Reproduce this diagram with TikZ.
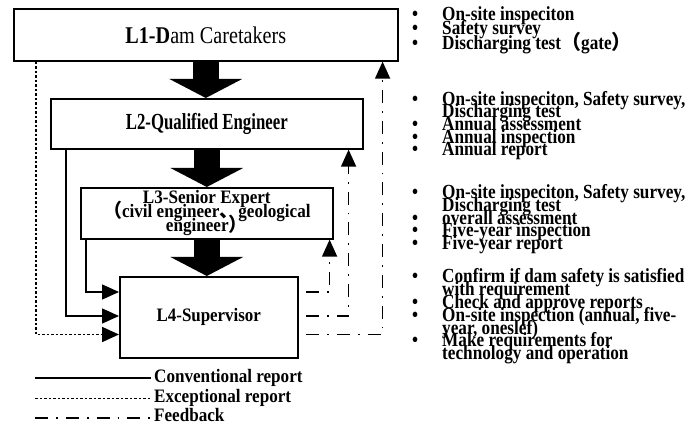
\documentclass[tikz,border=0pt]{standalone}
\usepackage{fontspec}
\setmainfont{Liberation Serif}
\newfontfamily\fA[FakeStretch=0.84]{Liberation Serif}
\newfontfamily\fB[FakeStretch=0.73]{Liberation Serif}
\newfontfamily\fR[FakeStretch=0.86]{Liberation Serif}
\newfontfamily\fC[FakeStretch=0.89]{Liberation Serif}
\newfontfamily\fD[FakeStretch=0.90]{Liberation Serif}
\newfontfamily\cjk{Noto Sans CJK SC}
\usetikzlibrary{arrows.meta}
\newcommand\bul{\makebox[30pt][l]{\textbullet}}
\newcommand\ind{\hspace*{30pt}}
\begin{document}
\begin{tikzpicture}[x=1pt,y=-1pt,
  box/.style={draw, line width=1.6pt, inner sep=0pt, anchor=north west},
  big/.style={line width=26pt, -{Triangle[length=19pt,width=72pt]}},
  ln/.style={line width=1.5pt},
  tip/.style={-{Triangle[length=17pt,width=15pt]}},
  dotl/.style={line width=1.8pt, dash pattern=on 2.5pt off 2pt},
  ddl/.style={dash pattern=on 13pt off 8pt on 1.8pt off 8pt},
  rt/.style={anchor=base west, inner sep=0pt, font={\fR\fontsize{20}{20}\selectfont\bfseries}},
  lg/.style={anchor=base west, inner sep=0pt, font={\fD\fontsize{19}{19}\selectfont\bfseries}},
  ]
\useasboundingbox (0,0) rectangle (689,430);
% boxes
\node[box, minimum width=384pt, minimum height=52pt, font={\fA\fontsize{24}{24}\selectfont}] (L1) at (13,8) {\textbf{L1-D}am Caretakers};
\node[box, minimum width=312pt, minimum height=50pt, font={\fB\fontsize{23}{24}\selectfont\bfseries}] (L2) at (50,98) {L2-Qualified Engineer};
\node[box, minimum width=252pt, minimum height=51pt, align=center, font={\fD\fontsize{19}{14}\selectfont\bfseries\lineskiplimit=-20pt}] (L3) at (80,187) {L3-Senior Expert\\{\cjk （}civil engineer{\cjk 、}geological\\engineer{\cjk ）}};
\node[box, minimum width=178pt, minimum height=81pt, font={\fC\fontsize{19}{20}\selectfont\bfseries}] (L4) at (119,276) {L4-Supervisor};
% big arrows
\draw[big] (L1.south) -- (L1.south |- L2.north);
\draw[big] (L2.south) -- (L2.south |- L3.north);
\draw[big] (L3.south) -- (L3.south |- L4.north);
% reports
\coordinate (ya) at (0,292);
\coordinate (yb) at (0,316);
\coordinate (yc) at (0,334.5);
\draw[ln,tip] ([xshift=6pt]L3.south west) |- (L4.west |- ya);
\draw[ln,tip] ([xshift=16pt]L2.south west) |- (L4.west |- yb);
\draw[ln,tip,dotl] ([xshift=23pt]L1.south west) |- (L4.west |- yc);
% feedback
\coordinate (fa) at (306,292);
\coordinate (fb) at (306,316);
\coordinate (fc) at (306,334.5);
\draw[ln,tip,ddl] (fa) -| ([xshift=-4pt]L3.south east);
\draw[ln,tip,ddl] (fb) -| ([xshift=-15pt]L2.south east);
\draw[ln,tip,ddl] (fc) -| ([xshift=-16pt]L1.south east);
% legend
\node[lg] (g1) at (154,383) {Conventional report};
\node[lg] (g2) at (154,402.5) {Exceptional report};
\node[lg] (g3) at (154,422) {Feedback};
\coordinate (la) at (35,378);
\coordinate (lb) at (35,398.5);
\coordinate (lc) at (35,418);
\draw[ln,shorten >=3pt] (la) -- (la -| g1.west);
\draw[ln,dotl,shorten >=3pt] (lb) -- (lb -| g2.west);
\draw[ln,ddl,shorten >=3pt] (lc) -- (lc -| g3.west);
% right text
\node[rt] (a1) at (412,20.5) {\bul On-site inspeciton};
\node[rt] (a2) at (412,35) {\bul Safety survey};
\node[rt] (a3) at (412,50) {\bul Discharging test{\cjk （}gate{\cjk ）}};
\node[rt] (b1) at (412,105.5) {\bul On-site inspeciton, Safety survey,};
\node[rt] (b2) at (412,118) {\ind Discharging test};
\node[rt] (b3) at (412,130.7) {\bul Annual assessment};
\node[rt] (b4) at (412,143.3) {\bul Annual inspection};
\node[rt] (b5) at (412,156) {\bul Annual report};
\node[rt] (c1) at (412,198.5) {\bul On-site inspeciton, Safety survey,};
\node[rt] (c2) at (412,211.3) {\ind Discharging test};
\node[rt] (c3) at (412,224.1) {\bul overall assessment};
\node[rt] (c4) at (412,236.9) {\bul Five-year inspection};
\node[rt] (c5) at (412,249.7) {\bul Five-year report};
\node[rt] (d1) at (412,283) {\bul Confirm if dam safety is satisfied};
\node[rt] (d2) at (412,295.8) {\ind with requirement};
\node[rt] (d3) at (412,308.6) {\bul Check and approve reports};
\node[rt] (d4) at (412,321.4) {\bul On-site inspection (annual, five-};
\node[rt] (d5) at (412,334.2) {\ind year, oneslef)};
\node[rt] (d6) at (412,347) {\bul Make requirements for};
\node[rt] (d7) at (412,359.8) {\ind technology and operation};
\end{tikzpicture}
\end{document}
